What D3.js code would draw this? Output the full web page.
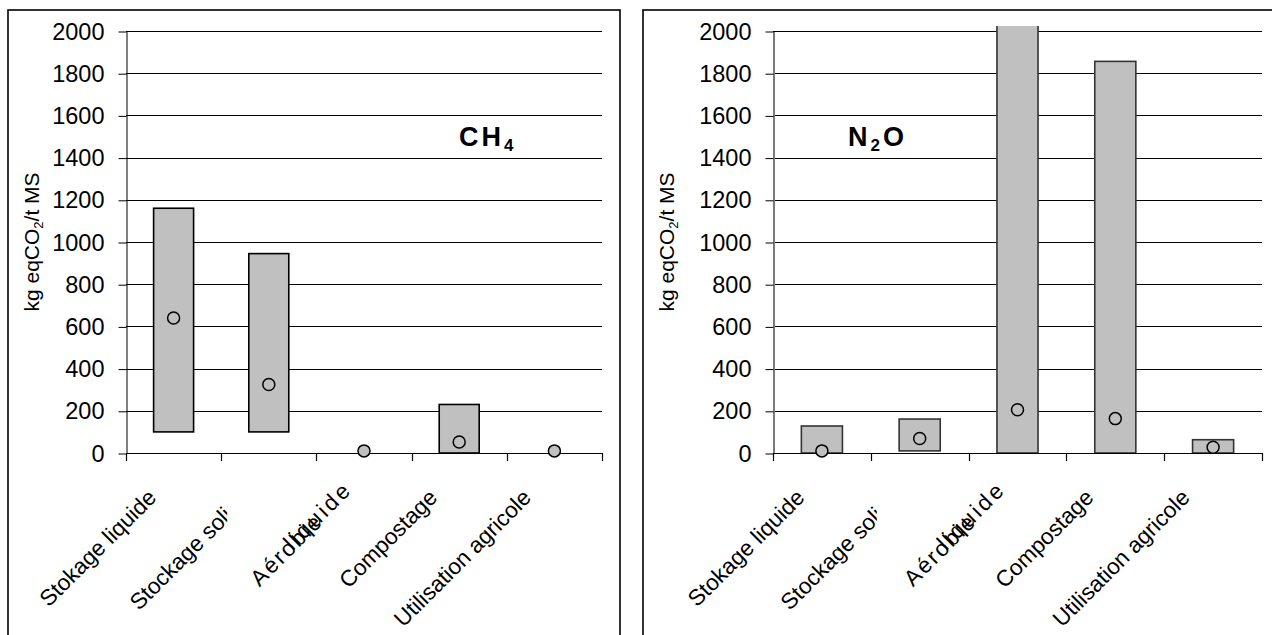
<!DOCTYPE html>
<html><head><meta charset="utf-8">
<script src="https://cdn.jsdelivr.net/npm/d3@7"></script>
<style>
body{margin:0;background:#fff}
svg{display:block}
text{font-family:"Liberation Sans",Arial,Helvetica,sans-serif;fill:#000}
</style>
</head><body>
<svg id="c" width="1272" height="635"></svg>
<script>
// ---- data ----
const categories = ["Stokage liquide","Stockage solide","Aérobie liquide","Compostage","Utilisation agricole"];
const ch4Min  = [100, 100, null, 0, null];
const ch4Max  = [1160, 945, null, 230, null];
const ch4Mean = [640, 325, 10, 52, 10];
const n2oMin  = [0, 10, 0, 0, 0];
const n2oMax  = [128, 161, 2100, 1856, 63];
const n2oMean = [10, 69, 205, 163, 27];
const yTicks  = [0,200,400,600,800,1000,1200,1400,1600,1800,2000];
const yTitle  = ["kg eqCO", "2", "/t MS"];

const svg = d3.select("#c");

function drawPanel(p){
  const g = svg.append("g");
  // frame
  g.append("rect").attr("x",p.fx).attr("y",10).attr("width",p.fw).attr("height",700)
    .attr("fill","none").attr("stroke","#000").attr("stroke-width",1.6);

  const y = d3.scaleLinear().domain([0,2000]).range([453,31]);
  const x = d3.scaleBand().domain(categories).range([p.x0,p.x1]);
  const bw = x.bandwidth();

  // gridlines
  g.append("g").selectAll("line").data(yTicks.filter(t=>t>0)).join("line")
    .attr("x1",p.x0).attr("x2",p.x1)
    .attr("y1",d=>Math.round(y(d))+0.5).attr("y2",d=>Math.round(y(d))+0.5)
    .attr("stroke","#000").attr("stroke-width",1);

  // y axis
  const ya = g.append("g").attr("transform",`translate(${p.x0+0.5},0.5)`)
    .call(d3.axisLeft(y).tickValues(yTicks).tickSize(8).tickSizeOuter(0).tickPadding(14).tickFormat(d3.format("d")));
  ya.select(".domain").attr("stroke",p.axisColor).attr("stroke-width",p.axisW);
  ya.selectAll(".tick line").attr("stroke","#000");
  ya.selectAll(".tick text").attr("font-size",23.5).attr("font-family","Liberation Sans, Arial, sans-serif").attr("fill","#000");

  // y title
  const tt = g.append("text")
    .attr("transform",`translate(${p.fx+31},242) rotate(-90)`)
    .attr("text-anchor","middle").attr("font-size",21);
  tt.append("tspan").text(yTitle[0]);
  tt.append("tspan").attr("font-size",13).attr("dy",4).text(yTitle[1]);
  tt.append("tspan").attr("dy",-4).text(yTitle[2]);

  // bars (clipped to plot area)
  const cid = "clip"+p.id;
  svg.append("defs").append("clipPath").attr("id",cid).append("rect")
    .attr("x",p.x0-2).attr("y",26).attr("width",p.x1-p.x0+4).attr("height",453-26+2);
  const barW = bw*0.42;
  const bars = categories.map((c,i)=>({c,lo:p.min[i],hi:p.max[i]})).filter(d=>d.hi!=null);
  g.append("g").attr("clip-path",`url(#${cid})`).selectAll("rect").data(bars).join("rect")
    .attr("x",d=>x(d.c)+(bw-barW)/2).attr("width",barW)
    .attr("y",d=>y(d.hi)).attr("height",d=>y(d.lo)-y(d.hi))
    .attr("fill","#c0c0c0").attr("stroke",p.barStroke).attr("stroke-width",1.6);

  // x axis line + boundary ticks
  const bounds = categories.map(c=>x(c)).concat([p.x1]);
  g.append("line").attr("x1",p.x0).attr("x2",p.x1+1).attr("y1",453.5).attr("y2",453.5)
    .attr("stroke","#000").attr("stroke-width",1.2);
  g.append("g").selectAll("line").data(bounds).join("line")
    .attr("x1",d=>Math.round(d)+0.5).attr("x2",d=>Math.round(d)+0.5)
    .attr("y1",453).attr("y2",461).attr("stroke","#000").attr("stroke-width",1.2);

  // mean points
  g.append("g").selectAll("circle").data(p.mean.map((v,i)=>({c:categories[i],v}))).join("circle")
    .attr("cx",d=>x(d.c)+bw/2).attr("cy",d=>y(d.v)).attr("r",6)
    .attr("fill","#c0c0c0").attr("stroke","#000").attr("stroke-width",1.5);

  // category labels
  categories.forEach((c,i)=>{
    const cx = x(c)+bw/2;
    const tx = cx-16-1.5*i, ty = 453+46;
    if(i===2){
      const words = c.split(" ");
      const lg = g.append("g").attr("transform",`translate(${tx},${ty}) rotate(-45)`);
      lg.append("text").attr("x",12).attr("text-anchor","end").attr("font-size",22.5)
        .attr("letter-spacing",3).attr("fill","#a8a8a8").text(words[1]);
      lg.append("text").attr("x",-123).attr("y",2).attr("text-anchor","start").attr("font-size",22.5)
        .attr("letter-spacing",2).attr("fill","#3a3a3a").text(words[0]);
      return;
    }
    let holder = g;
    if(i===1){
      const lid = "lclip"+p.id;
      svg.append("defs").append("clipPath").attr("id",lid).append("rect")
        .attr("x",0).attr("y",0).attr("width",x(c)+6).attr("height",700);
      holder = g.append("g").attr("clip-path",`url(#${lid})`);
    }
    holder.append("text").attr("transform",`translate(${tx},${ty}) rotate(-45)`)
      .attr("text-anchor","end").attr("font-size",22.5).text(c);
  });

  // gas label
  const gl = g.append("text").attr("x",p.lx).attr("y",146).attr("font-size",27)
    .attr("font-weight","bold").attr("letter-spacing",3);
  p.gas.forEach((s,k)=>{
    const ts = gl.append("tspan").text(s);
    if(k===1){ ts.attr("font-size",17).attr("dy",5); }
    if(k===2){ ts.attr("dy",-5); }
  });
}

drawPanel({id:"a",fx:8,fw:612,x0:126,x1:602,axisColor:"#000",axisW:1,barStroke:"#000",
  min:ch4Min,max:ch4Max,mean:ch4Mean,gas:["CH","4"],lx:459});
drawPanel({id:"b",fx:643,fw:700,x0:773,x1:1262,axisColor:"#7a7a7a",axisW:2,barStroke:"#333",
  min:n2oMin,max:n2oMax,mean:n2oMean,gas:["N","2","O"],lx:848});
</script>
</body></html>
